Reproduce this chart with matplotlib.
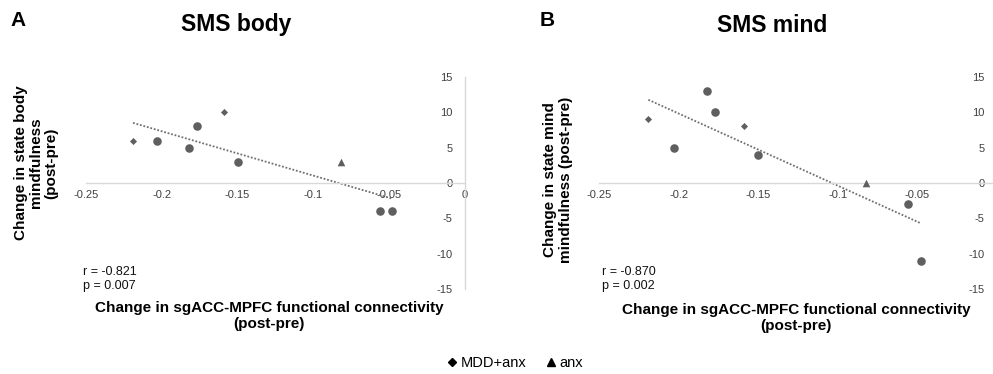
import numpy as np
import matplotlib
matplotlib.use("Agg")
import matplotlib.pyplot as plt
from matplotlib.lines import Line2D

plt.rcParams['font.family'] = ['Liberation Sans', 'DejaVu Sans']
plt.rcParams['axes.unicode_minus'] = False

# Shared x values (change in sgACC-MPFC FC)
x_vals = [-0.219, -0.159, -0.203, -0.177, -0.182, -0.150, -0.056, -0.048, -0.082]
groups = ['MDD+anx', 'MDD+anx', 'MDD', 'MDD', 'MDD', 'MDD', 'MDD', 'MDD', 'anx']
body_vals = [6, 10, 6, 8, 5, 3, -4, -4, 3]
mind_vals = [9, 8, 5, 10, 13, 4, -3, -11, 0]

panels = [
    dict(letter='A', title='SMS body', y=body_vals,
         ylabel='Change in state body\nmindfulness\n(post-pre)', stat='r = -0.821\np = 0.007'),
    dict(letter='B', title='SMS mind', y=mind_vals,
         ylabel='Change in state mind\nmindfulness (post-pre)', stat='r = -0.870\np = 0.002'),
]
x_ticks = [-0.25, -0.2, -0.15, -0.1, -0.05, 0]
x_ticklabels = ['-0.25', '-0.2', '-0.15', '-0.1', '-0.05', '0']
y_ticks = [-15, -10, -5, 0, 5, 10, 15]

W, H = 993, 374
fig = plt.figure(figsize=(W / 100, H / 100), dpi=100)

def fx(px):
    return px / W

def fy(py):
    return 1 - py / H

mk = {'MDD+anx': ('D', 13), 'MDD': ('o', 38), 'anx': ('^', 30)}
mcol = '#5f5f5f'
axes_px = [(86, 465), (599, 997)]
top_px, bot_px = 77, 289
stat_x = [83, 602]

for p, (l, r), sx in zip(panels, axes_px, stat_x):
    ax = fig.add_axes([l / W, (H - bot_px) / H, (r - l) / W, (bot_px - top_px) / H])
    ax.set_xlim(-0.25, 0)
    ax.set_ylim(-15, 15)
    for sp in ['top', 'right']:
        ax.spines[sp].set_visible(False)
    ax.spines['left'].set_position(('data', 0))
    ax.spines['bottom'].set_position(('data', 0))
    for sp in ['left', 'bottom']:
        ax.spines[sp].set_color('#d9d9d9')
        ax.spines[sp].set_linewidth(1.0)
    ax.set_xticks(x_ticks)
    ax.set_xticklabels(x_ticklabels)
    ax.set_yticks(y_ticks)
    ax.tick_params(length=0, labelsize=8, colors='#404040')
    ax.tick_params(axis='y', pad=9)
    ax.tick_params(axis='x', pad=5)
    ax.patch.set_alpha(0)
    xs = np.array(x_vals)
    ys = np.array(p['y'], dtype=float)
    gs = np.array(groups)
    for g, (m, s) in mk.items():
        sel = gs == g
        ax.scatter(xs[sel], ys[sel], marker=m, s=s, color=mcol, zorder=3, linewidths=0)
    k, b = np.polyfit(xs, ys, 1)
    xx = np.array([xs.min(), xs.max()])
    ax.plot(xx, k * xx + b, linestyle=(0, (1.0, 1.0)), color='#707070', linewidth=1.3, zorder=2)
    fig.text(fx(sx), fy(279), p['stat'], fontsize=9, va='center', ha='left',
             linespacing=1.28, color='#111111')

fig.text(fx(18), fy(20), 'A', fontsize=15, fontweight='bold', ha='center', va='center')
fig.text(fx(547), fy(20), 'B', fontsize=15, fontweight='bold', ha='center', va='center')
fig.text(fx(236), fy(25), 'SMS body', fontsize=16.5, fontweight='bold', ha='center', va='center')
fig.text(fx(772), fy(25), 'SMS mind', fontsize=16.5, fontweight='bold', ha='center', va='center')

fig.text(fx(36), fy(163), panels[0]['ylabel'], fontsize=11, fontweight='bold', rotation=90,
         ha='center', va='center', linespacing=1.1)
fig.text(fx(558), fy(180), panels[1]['ylabel'], fontsize=11, fontweight='bold', rotation=90,
         ha='center', va='center', linespacing=1.1)

xl = 'Change in sgACC-MPFC functional connectivity\n(post-pre)'
fig.text(fx(269), fy(316), xl, fontsize=11, fontweight='bold', ha='center', va='center', linespacing=1.1)
fig.text(fx(796), fy(318), xl, fontsize=11, fontweight='bold', ha='center', va='center', linespacing=1.1)

handles = [Line2D([], [], marker='D', linestyle='none', color='black', markersize=4.5),
           Line2D([], [], marker='^', linestyle='none', color='black', markersize=6)]
fig.legend(handles, ['MDD+anx', 'anx'], loc='center', bbox_to_anchor=(fx(514), fy(363)),
           ncol=2, frameon=False, fontsize=10.5, handletextpad=0.1, columnspacing=1.2, handlelength=1)

fig.savefig('out.png', dpi=100)
